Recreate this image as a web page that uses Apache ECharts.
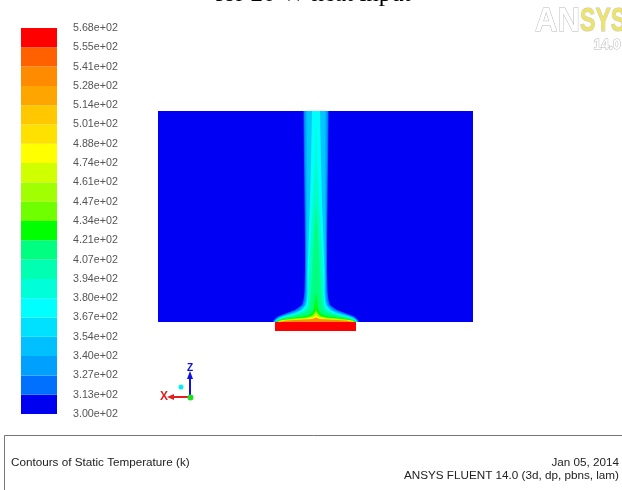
<!DOCTYPE html>
<html><head><meta charset="utf-8">
<script src="https://cdn.jsdelivr.net/npm/echarts@6/dist/echarts.min.js"></script>
<style>html,body{margin:0;padding:0;background:#fff;overflow:hidden}#c{width:622px;height:490px;filter:blur(0.45px)}</style>
</head><body><div id="c"></div>
<script>
// colour map, bottom band to top band
const legendColors = ['#0000f0','#0070ff','#00a0ff','#00c0ff','#00e0ff','#00ffff','#00ffd8','#00ffb0','#00ff80','#00ff00',
  '#70ff00','#a0ff00','#d0ff00','#ffff00','#ffe100','#ffc800','#ffa500','#ff8c00','#ff6000','#ff0000'];
const legendTicks = ['3.00e+02','3.13e+02','3.27e+02','3.40e+02','3.54e+02','3.67e+02','3.80e+02','3.94e+02','4.07e+02','4.21e+02',
  '4.34e+02','4.47e+02','4.61e+02','4.74e+02','4.88e+02','5.01e+02','5.14e+02','5.28e+02','5.41e+02','5.55e+02','5.68e+02'];
// plume height stations above the fluid-domain floor
const heights = [0,1.5,3,4.5,6,9,12,17,22,30,50,80,120,160,211];
// half-width of each temperature contour at those heights
const plumeBlue1 = [43,42.5,41,39.5,37,29,21,14,12.5,11.5,11,11,11.5,12,12.5];
const plumeBlue2 = [42,41.5,40,38,35,26,18,12.5,11,10.5,10,10,10.5,11,11.5];
const plumeBlue3 = [41,41,39,37,33,23,16,11,10,9.5,9.5,9.5,9.5,9.5,9.5];
const plumeCyan  = [40.5,40,38,35,31,20,14,10,9,8.5,8.5,7.5,6,5,4];
const plumeTeal  = [40,39.5,37,33,28,17,11,8.5,8,7.5,7,5.5,3,1,0];
const plumeMint  = [39.5,39,35,30,23,13,8,6,5.5,5,4,2.5,0,0,0];
const plumeGreen = [39,38,32,22,10,4,2.5,1.5,1,0,0,0,0,0,0];
const plumeLime  = [38.5,36.5,27,10,4,1.5,0,0,0,0,0,0,0,0,0];
const plumeYellow= [38,34,12,4,1,0,0,0,0,0,0,0,0,0,0];
const plumeOrange= [37.5,30,4,0,0,0,0,0,0,0,0,0,0,0,0];
const plumeBands = [
  {c:'#0070ff',w:plumeBlue1},{c:'#00a0ff',w:plumeBlue2},{c:'#00c8ff',w:plumeBlue3},{c:'#00ffff',w:plumeCyan},
  {c:'#00ffc0',w:plumeTeal},{c:'#00ff80',w:plumeMint},{c:'#00ff00',w:plumeGreen},{c:'#a0ff00',w:plumeLime},
  {c:'#ffff00',w:plumeYellow},{c:'#ff9000',w:plumeOrange}];
const domainX = [-158,157], domainY = [0,211];
const sourceX = [-41,40], sourceY = [-9,0];
const footerLeft = 'Contours of Static Temperature (k)';
const footerDate = 'Jan 05, 2014';
const footerSolver = 'ANSYS FLUENT 14.0 (3d, dp, pbns, lam)';
const titleText = 'for 20 W heat input';

const rect = (api,x0,x1,y0,y1,fill)=>{
  const a=api.coord([x0,y1]), b=api.coord([x1,y0]);
  return {type:'rect',shape:{x:a[0],y:a[1],width:b[0]-a[0],height:b[1]-a[1]},style:{fill}};
};
const chart = echarts.init(document.getElementById('c'),null,{width:622,height:490});
chart.setOption({
  animation:false,
  backgroundColor:'#fff',
  grid:[
    {left:21,top:28,width:36,height:386},
    {left:158,top:111,width:315,height:220}
  ],
  xAxis:[
    {gridIndex:0,type:'value',min:0,max:1,show:false},
    {gridIndex:1,type:'value',min:domainX[0],max:domainX[1],show:false}
  ],
  yAxis:[
    {gridIndex:0,type:'value',min:0,max:20,interval:1,position:'right',
      axisLine:{show:false},axisTick:{show:false},splitLine:{show:false},
      axisLabel:{margin:16,fontFamily:'Liberation Sans',fontSize:10.7,color:'#555',
        formatter:v=>legendTicks[v]}},
    {gridIndex:1,type:'value',min:sourceY[0],max:domainY[1],show:false}
  ],
  series:[
    {type:'custom',coordinateSystem:'cartesian2d',xAxisIndex:0,yAxisIndex:0,silent:true,
      data:legendColors.map((c,i)=>[i]),
      renderItem:(p,api)=>{const i=p.dataIndex;return rect(api,0,1,i,i+1,legendColors[i]);}},
    {type:'custom',coordinateSystem:'cartesian2d',xAxisIndex:1,yAxisIndex:1,silent:true,z:1,
      data:[[0]],
      renderItem:(p,api)=>rect(api,domainX[0],domainX[1],domainY[0],domainY[1],'#0000f5')},
    {type:'custom',coordinateSystem:'cartesian2d',xAxisIndex:1,yAxisIndex:1,silent:true,z:2,clip:false,
      data:plumeBands.map((b,i)=>[i]),
      renderItem:(p,api)=>{
        const b=plumeBands[p.dataIndex];
        const left=[],right=[];
        heights.forEach((h,k)=>{
          if(b.w[k]>0||k===0||b.w[k-1]>0){
            right.push(api.coord([b.w[k],h]));
            left.unshift(api.coord([-b.w[k],h]));
          }
        });
        return {type:'polygon',shape:{points:right.concat(left)},style:{fill:b.c}};
      }},
    {type:'custom',coordinateSystem:'cartesian2d',xAxisIndex:1,yAxisIndex:1,silent:true,z:3,
      data:[[0]],
      renderItem:(p,api)=>rect(api,sourceX[0],sourceX[1],sourceY[0],sourceY[1],'#ff0000')}
  ],
  graphic:[
    {type:'text',left:215,top:-18,style:{text:titleText,font:'25px "Liberation Serif"',fill:'#000'}},
    // logo
    {type:'text',x:535,y:5,scaleX:0.94,style:{text:'AN',font:'bold 33px "Liberation Sans"',fill:'#fff',stroke:'#b8b8b8',lineWidth:1}},
    {type:'text',x:580,y:5,scaleX:0.7,style:{text:'SYS',font:'bold 33px "Liberation Sans"',fill:'#ece36c',stroke:'#c4c4c4',lineWidth:1}},
    {type:'text',left:593,top:38,style:{text:'14.0',font:'bold 14px "Liberation Sans"',fill:'#fff',stroke:'#b8b8b8',lineWidth:1}},
    // triad
    {type:'line',shape:{x1:190,y1:397,x2:170,y2:397},style:{stroke:'#e02020',lineWidth:2}},
    {type:'polygon',shape:{points:[[167,397],[174,394],[174,400]]},style:{fill:'#e02020'}},
    {type:'text',left:160,top:391,style:{text:'X',font:'bold 12px "Liberation Sans"',fill:'#e02020'}},
    {type:'line',shape:{x1:190,y1:397,x2:190,y2:375},style:{stroke:'#1010e0',lineWidth:2}},
    {type:'polygon',shape:{points:[[190,371],[187,379],[193,379]]},style:{fill:'#1010e0'}},
    {type:'text',left:187,top:363,style:{text:'Z',font:'bold 10px "Liberation Sans"',fill:'#1010e0'}},
    {type:'circle',shape:{cx:190.5,cy:397.5,r:3},style:{fill:'#22dd22'}},
    {type:'circle',shape:{cx:181,cy:387,r:2.5},style:{fill:'#00eeee'}},
    // footer
    {type:'polyline',shape:{points:[[4.5,490],[4.5,435.5],[622,435.5]]},style:{stroke:'#777',fill:null,lineWidth:1}},
    {type:'text',left:11,top:457,style:{text:footerLeft,font:'11.7px "Liberation Sans"',fill:'#222'}},
    {type:'text',right:3,top:457,style:{text:footerDate,font:'11.7px "Liberation Sans"',fill:'#222',textAlign:'right'}},
    {type:'text',right:3,top:470,style:{text:footerSolver,font:'11.7px "Liberation Sans"',fill:'#222',textAlign:'right'}}
  ]
});
</script></body></html>
